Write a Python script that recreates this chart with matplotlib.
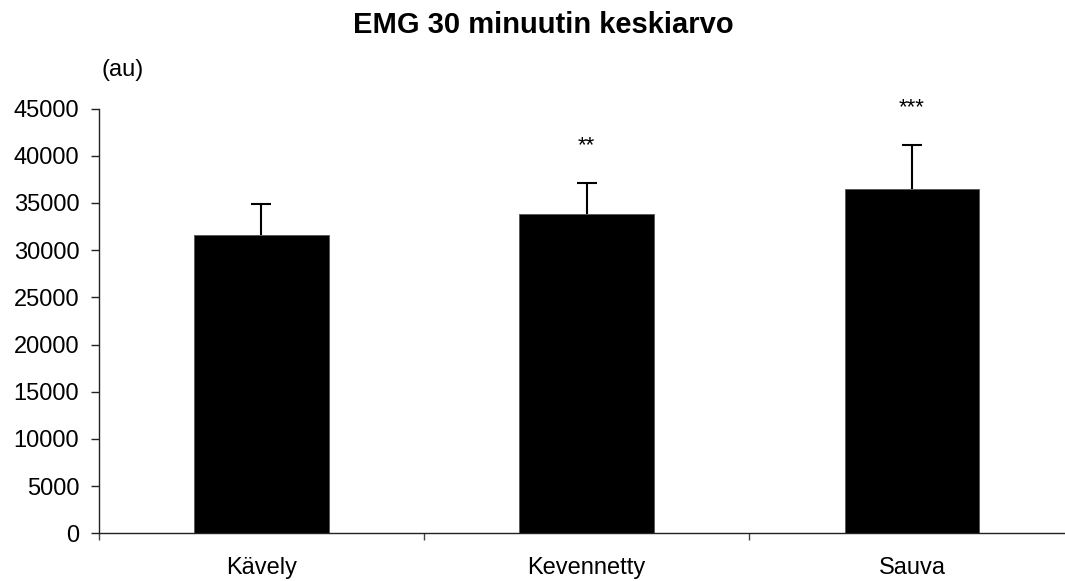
import numpy as np
import matplotlib
matplotlib.use("Agg")
import matplotlib.pyplot as plt

plt.rcParams['font.family'] = ['Liberation Sans', 'DejaVu Sans']

categories = ["Kävely", "Kevennetty", "Sauva"]
means = [31600, 33870, 36520]
sd = [3260, 3220, 4640]
stars = ["", "**", "***"]

W, H = 1065, 581
fig = plt.figure(figsize=(W / 100, H / 100), dpi=100)
left, right = 98.7, 1074.6
bottom, top = 533.3, 108.5
ax = fig.add_axes([left / W, 1 - bottom / H, (right - left) / W, (bottom - top) / H])

x = np.arange(len(categories))
ax.bar(x, means, width=0.413, color="black", edgecolor="#555555", linewidth=0.6, zorder=2)
eb = ax.errorbar(x, means, yerr=[np.zeros(len(sd)), sd], fmt="none", ecolor="black",
                 elinewidth=1.5, capsize=7.5, capthick=1.5, zorder=3)
# only the upper cap is shown
eb[1][0].set_visible(False)

for xi, m, s, st in zip(x, means, sd, stars):
    if st:
        ax.annotate(st, (xi, m + s), xytext=(0, 23), textcoords="offset points",
                    ha="center", va="baseline", fontsize=16, annotation_clip=False)

ax.set_xlim(-0.5, 2.5)
ax.set_ylim(0, 45000)
ax.set_yticks(np.arange(0, 45001, 5000))
ax.set_xticks(x)
ax.set_xticklabels(categories)
ax.set_xticks([-0.5, 0.5, 1.5, 2.5], minor=True)

for s in ["top", "right"]:
    ax.spines[s].set_visible(False)
for s in ["left", "bottom"]:
    ax.spines[s].set_linewidth(1.0)
    ax.spines[s].set_color("#222222")

ax.tick_params(axis="y", direction="out", length=6, width=1, pad=8, labelsize=17, color="#222222")
ax.tick_params(axis="x", which="major", length=0, pad=17, labelsize=17)
ax.tick_params(axis="x", which="minor", direction="out", length=5, width=1, color="#444444")

fig.text(543 / W, 1 - 33.3 / H, "EMG 30 minuutin keskiarvo", ha="center", va="baseline",
         fontsize=21, fontweight="bold")
fig.text(123 / W, 1 - 70 / H, "(au)", ha="center", va="center", fontsize=17)

fig.savefig("out.png", dpi=100)
